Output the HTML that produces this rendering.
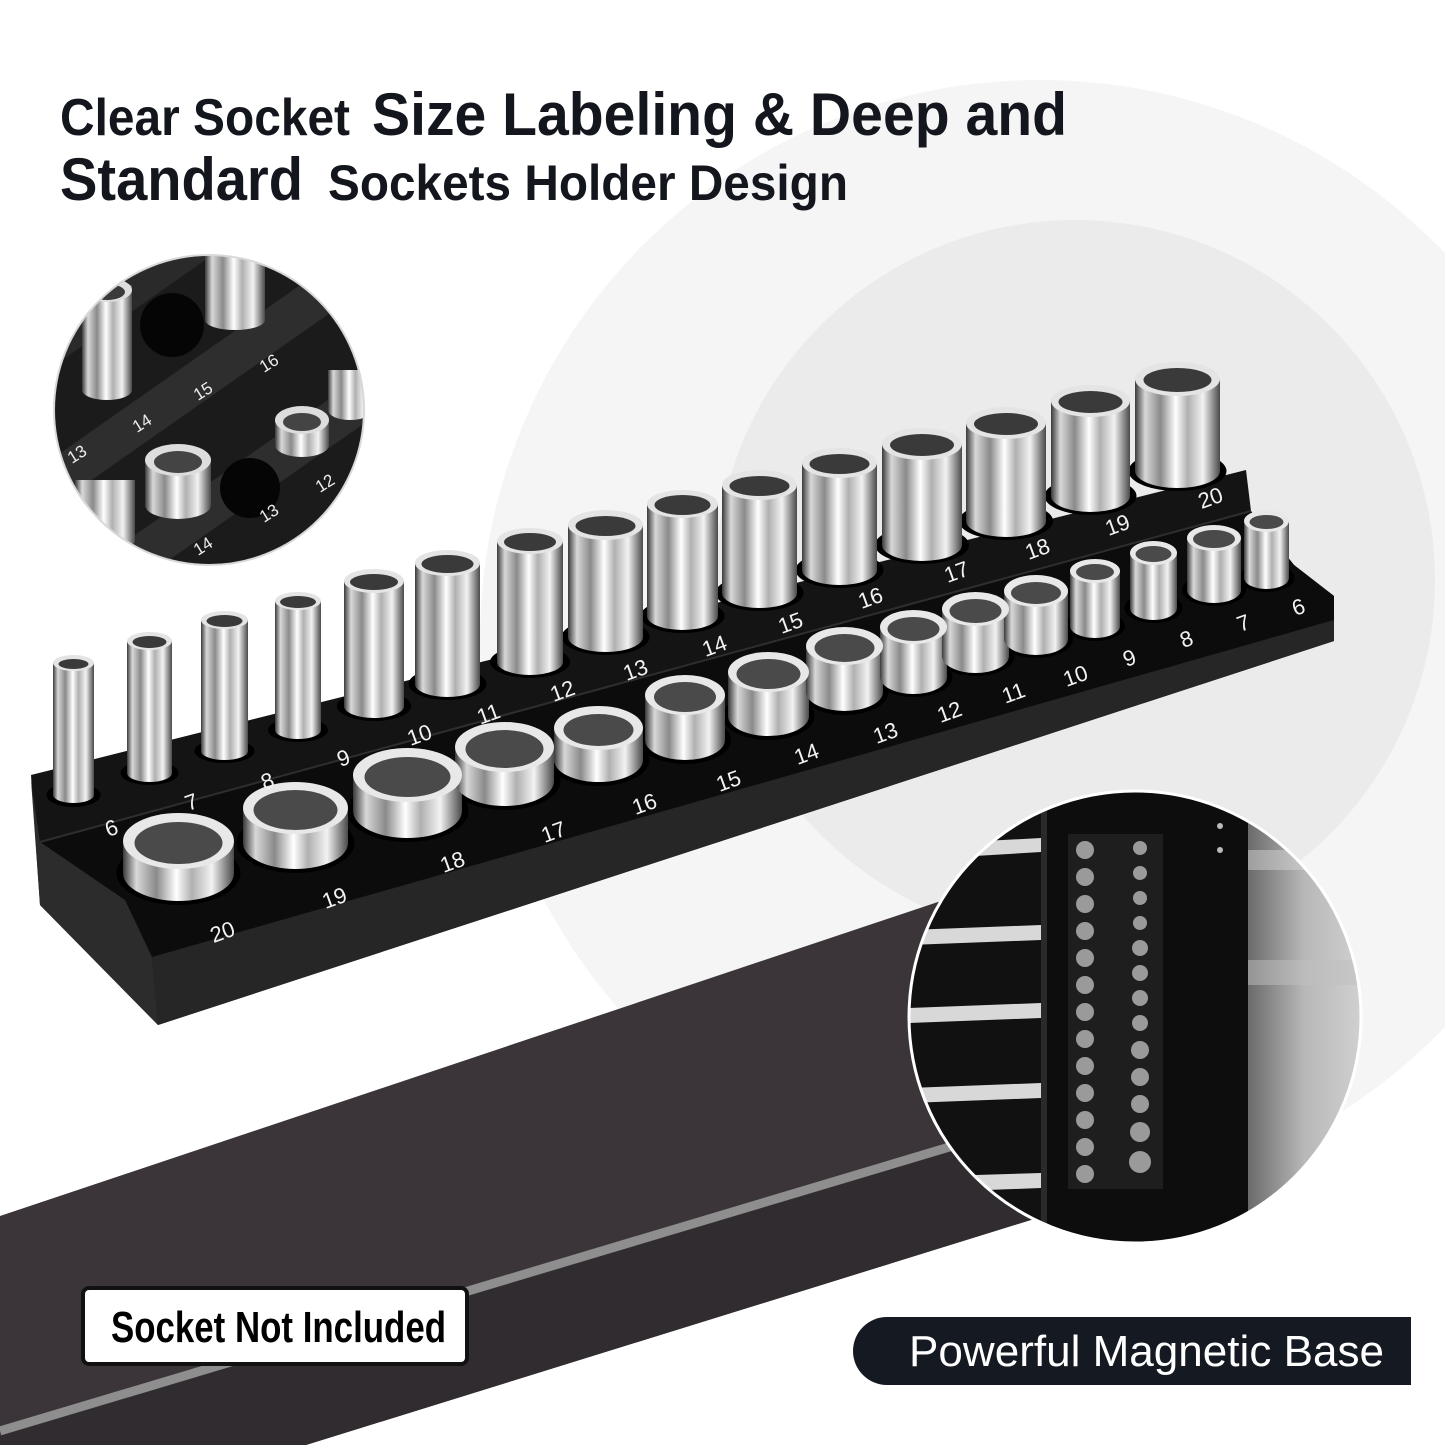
<!DOCTYPE html>
<html><head><meta charset="utf-8"><style>
html,body{margin:0;padding:0;background:#fff;width:1445px;height:1445px;overflow:hidden;}
svg{display:block;}
</style></head><body>
<svg width="1445" height="1445" viewBox="0 0 1445 1445" xmlns="http://www.w3.org/2000/svg">
<defs>
<linearGradient id="ch" x1="0" y1="0" x2="1" y2="0">
<stop offset="0" stop-color="#3a3a3a"/><stop offset="0.12" stop-color="#d8d8d8"/><stop offset="0.3" stop-color="#8a8a8a"/><stop offset="0.48" stop-color="#ffffff"/><stop offset="0.62" stop-color="#b0b0b0"/><stop offset="0.8" stop-color="#f2f2f2"/><stop offset="1" stop-color="#4a4a4a"/>
</linearGradient>
<linearGradient id="wall" x1="0" y1="0" x2="1" y2="0">
<stop offset="0" stop-color="#6a6a6a"/><stop offset="0.5" stop-color="#b8b8b8"/><stop offset="1" stop-color="#d0d0d0"/>
</linearGradient>
<clipPath id="c1"><circle cx="209" cy="410" r="155"/></clipPath>
<clipPath id="c2"><circle cx="1135" cy="1017" r="226"/></clipPath>
</defs>

<circle cx="1040" cy="640" r="560" fill="#f5f5f5"/>
<circle cx="1075" cy="580" r="360" fill="#ebebeb"/>

<g fill="#14161d" font-family="Liberation Sans, sans-serif" font-weight="bold">
<text x="60" y="135" font-size="52" textLength="290" lengthAdjust="spacingAndGlyphs">Clear Socket</text>
<text x="372" y="135" font-size="60" textLength="695" lengthAdjust="spacingAndGlyphs">Size Labeling &amp; Deep and</text>
<text x="60" y="200" font-size="60" textLength="243" lengthAdjust="spacingAndGlyphs">Standard</text>
<text x="328" y="200" font-size="50" textLength="520" lengthAdjust="spacingAndGlyphs">Sockets Holder Design</text>
</g>

<polygon points="0,1216 1150,831 1150,1183 306,1445 0,1445" fill="#3b3539"/>
<polygon points="0,1436 1150,1092 1150,1183 306,1445 0,1445" fill="#312c2f"/>
<line x1="0" y1="1431" x2="1150" y2="1087" stroke="#8e8e8e" stroke-width="9"/>

<polygon points="31,775 1246,470 1251,511 1294,565 1334,596 1334,641 158,1025 40,905" fill="#141414"/>
<polygon points="40,842 1251,511 1294,565 1334,596 1334,620 152,957 125,900" fill="#0c0c0c"/>
<polygon points="152,957 1334,620 1334,641 158,1025" fill="#262626"/>
<polygon points="31,780 40,905 158,1025 152,957 125,900 40,842" fill="#2c2c2c"/>
<line x1="40" y1="842" x2="1251" y2="511" stroke="#2e2e2e" stroke-width="2"/>

<g fill="#000">
<ellipse cx="73.5" cy="795" rx="27" ry="12"/><ellipse cx="149.5" cy="773" rx="29" ry="12"/><ellipse cx="224.5" cy="751" rx="30" ry="12"/><ellipse cx="298" cy="730" rx="30" ry="12"/><ellipse cx="374" cy="706" rx="37" ry="15"/><ellipse cx="447.5" cy="684" rx="39" ry="16"/><ellipse cx="530" cy="662" rx="40" ry="16"/><ellipse cx="605.5" cy="637" rx="44" ry="18"/><ellipse cx="682.5" cy="616" rx="42" ry="17"/><ellipse cx="759.5" cy="593" rx="44" ry="18"/><ellipse cx="839.5" cy="570" rx="44" ry="18"/><ellipse cx="922" cy="545" rx="47" ry="19"/><ellipse cx="1006" cy="521" rx="47" ry="19"/><ellipse cx="1090.5" cy="496" rx="46" ry="19"/><ellipse cx="1177.5" cy="471" rx="49" ry="20"/>
</g>

<g fill="url(#ch)">
<path d="M53,663 V795 A20.5,8 0 0 0 94,795 V663 Z"/>
<path d="M127,641 V773 A22.5,9 0 0 0 172,773 V641 Z"/>
<path d="M201,620 V751 A23.5,9 0 0 0 248,751 V620 Z"/>
<path d="M275,601 V730 A23,9 0 0 0 321,730 V601 Z"/>
<path d="M344,581 V706 A30,12 0 0 0 404,706 V581 Z"/>
<path d="M415,563 V684 A32.5,13 0 0 0 480,684 V563 Z"/>
<path d="M497,541 V662 A33,13 0 0 0 563,662 V541 Z"/>
<path d="M568,525 V637 A37.5,15 0 0 0 643,637 V525 Z"/>
<path d="M647,504 V616 A35.5,14 0 0 0 718,616 V504 Z"/>
<path d="M722,485 V593 A37.5,15 0 0 0 797,593 V485 Z"/>
<path d="M802,463 V570 A37.5,15 0 0 0 877,570 V463 Z"/>
<path d="M882,444 V545 A40,16 0 0 0 962,545 V444 Z"/>
<path d="M966,423 V521 A40,16 0 0 0 1046,521 V423 Z"/>
<path d="M1051,401 V496 A39.5,16 0 0 0 1130,496 V401 Z"/>
<path d="M1135,379 V471 A42.5,17 0 0 0 1220,471 V379 Z"/>
</g>
<g fill="#e4e4e4">
<ellipse cx="73.5" cy="663" rx="20.5" ry="8"/><ellipse cx="149.5" cy="641" rx="22.5" ry="9"/><ellipse cx="224.5" cy="620" rx="23.5" ry="9"/><ellipse cx="298" cy="601" rx="23" ry="9"/><ellipse cx="374" cy="581" rx="30" ry="12"/><ellipse cx="447.5" cy="563" rx="32.5" ry="13"/><ellipse cx="530" cy="541" rx="33" ry="13"/><ellipse cx="605.5" cy="525" rx="37.5" ry="15"/><ellipse cx="682.5" cy="504" rx="35.5" ry="14"/><ellipse cx="759.5" cy="485" rx="37.5" ry="15"/><ellipse cx="839.5" cy="463" rx="37.5" ry="15"/><ellipse cx="922" cy="444" rx="40" ry="16"/><ellipse cx="1006" cy="423" rx="40" ry="16"/><ellipse cx="1090.5" cy="401" rx="39.5" ry="16"/><ellipse cx="1177.5" cy="379" rx="42.5" ry="17"/>
</g>
<g fill="#3a3a3a">
<ellipse cx="73.5" cy="664" rx="15" ry="5"/><ellipse cx="149.5" cy="642" rx="17" ry="6"/><ellipse cx="224.5" cy="621" rx="18" ry="6"/><ellipse cx="298" cy="602" rx="18" ry="6"/><ellipse cx="374" cy="582" rx="24" ry="8"/><ellipse cx="447.5" cy="564" rx="26" ry="9"/><ellipse cx="530" cy="542" rx="26" ry="9"/><ellipse cx="605.5" cy="526" rx="30" ry="10"/><ellipse cx="682.5" cy="505" rx="28" ry="10"/><ellipse cx="759.5" cy="486" rx="30" ry="10"/><ellipse cx="839.5" cy="464" rx="30" ry="10"/><ellipse cx="922" cy="445" rx="32" ry="11"/><ellipse cx="1006" cy="424" rx="32" ry="11"/><ellipse cx="1090.5" cy="402" rx="32" ry="11"/><ellipse cx="1177.5" cy="380" rx="34" ry="12"/>
</g>

<g fill="#000">
<ellipse cx="178.5" cy="873" rx="62" ry="32"/><ellipse cx="295.5" cy="843" rx="59" ry="30"/><ellipse cx="407.5" cy="811" rx="61" ry="31"/><ellipse cx="504.5" cy="781" rx="56" ry="29"/><ellipse cx="598.5" cy="760" rx="51" ry="26"/><ellipse cx="685" cy="740" rx="46" ry="24"/><ellipse cx="768.5" cy="716" rx="46" ry="24"/><ellipse cx="844.5" cy="692" rx="44" ry="23"/><ellipse cx="913.5" cy="677" rx="39" ry="20"/><ellipse cx="975.5" cy="656" rx="39" ry="20"/><ellipse cx="1036" cy="639" rx="37" ry="19"/><ellipse cx="1095" cy="626" rx="30" ry="15"/><ellipse cx="1153.5" cy="608" rx="29" ry="15"/><ellipse cx="1214" cy="590" rx="32" ry="16"/><ellipse cx="1266.5" cy="578" rx="28" ry="14"/>
</g>
<g fill="url(#ch)">
<path d="M123,841 V873 A55.5,28 0 0 0 234,873 V841 Z"/>
<path d="M243,808 V843 A52.5,26 0 0 0 348,843 V808 Z"/>
<path d="M353,775 V811 A54.5,27 0 0 0 462,811 V775 Z"/>
<path d="M455,747 V781 A49.5,25 0 0 0 554,781 V747 Z"/>
<path d="M554,728 V760 A44.5,22 0 0 0 643,760 V728 Z"/>
<path d="M645,695 V740 A40,20 0 0 0 725,740 V695 Z"/>
<path d="M728,672 V716 A40.5,20 0 0 0 809,716 V672 Z"/>
<path d="M806,646 V692 A38.5,19 0 0 0 883,692 V646 Z"/>
<path d="M880,627 V677 A33.5,17 0 0 0 947,677 V627 Z"/>
<path d="M942,609 V656 A33.5,17 0 0 0 1009,656 V609 Z"/>
<path d="M1004,591 V639 A32,16 0 0 0 1068,639 V591 Z"/>
<path d="M1070,571 V626 A25,12 0 0 0 1120,626 V571 Z"/>
<path d="M1130,553 V608 A23.5,12 0 0 0 1177,608 V553 Z"/>
<path d="M1187,538 V590 A27,13 0 0 0 1241,590 V538 Z"/>
<path d="M1244,521 V578 A22.5,11 0 0 0 1289,578 V521 Z"/>
</g>
<g fill="#e8e8e8">
<ellipse cx="178.5" cy="841" rx="55.5" ry="28"/><ellipse cx="295.5" cy="808" rx="52.5" ry="26"/><ellipse cx="407.5" cy="775" rx="54.5" ry="27"/><ellipse cx="504.5" cy="747" rx="49.5" ry="25"/><ellipse cx="598.5" cy="728" rx="44.5" ry="22"/><ellipse cx="685" cy="695" rx="40" ry="20"/><ellipse cx="768.5" cy="672" rx="40.5" ry="20"/><ellipse cx="844.5" cy="646" rx="38.5" ry="19"/><ellipse cx="913.5" cy="627" rx="33.5" ry="17"/><ellipse cx="975.5" cy="609" rx="33.5" ry="17"/><ellipse cx="1036" cy="591" rx="32" ry="16"/><ellipse cx="1095" cy="571" rx="25" ry="12"/><ellipse cx="1153.5" cy="553" rx="23.5" ry="12"/><ellipse cx="1214" cy="538" rx="27" ry="13"/><ellipse cx="1266.5" cy="521" rx="22.5" ry="11"/>
</g>
<g fill="#4a4a4a">
<ellipse cx="178.5" cy="843" rx="44" ry="21"/><ellipse cx="295.5" cy="810" rx="42" ry="20"/><ellipse cx="407.5" cy="777" rx="43" ry="20"/><ellipse cx="504.5" cy="749" rx="39" ry="19"/><ellipse cx="598.5" cy="730" rx="35" ry="16"/><ellipse cx="685" cy="697" rx="31" ry="15"/><ellipse cx="768.5" cy="674" rx="32" ry="15"/><ellipse cx="844.5" cy="648" rx="30" ry="14"/><ellipse cx="913.5" cy="629" rx="26" ry="12"/><ellipse cx="975.5" cy="611" rx="26" ry="12"/><ellipse cx="1036" cy="593" rx="25" ry="11"/><ellipse cx="1095" cy="572" rx="19" ry="8"/><ellipse cx="1153.5" cy="554" rx="18" ry="8"/><ellipse cx="1214" cy="539" rx="21" ry="9"/><ellipse cx="1266.5" cy="522" rx="17" ry="7"/>
</g>

<g fill="#f2f2f2" font-family="Liberation Sans, sans-serif" font-size="22" text-anchor="middle">
<text transform="translate(114,835) rotate(-20)">6</text>
<text transform="translate(194,809) rotate(-20)">7</text>
<text transform="translate(270,788) rotate(-20)">8</text>
<text transform="translate(346,765) rotate(-20)">9</text>
<text transform="translate(422,742) rotate(-20)">10</text>
<text transform="translate(491,721) rotate(-20)">11</text>
<text transform="translate(565,698) rotate(-20)">12</text>
<text transform="translate(638,677) rotate(-20)">13</text>
<text transform="translate(717,653) rotate(-20)">14</text>
<text transform="translate(793,630) rotate(-20)">15</text>
<text transform="translate(873,605) rotate(-20)">16</text>
<text transform="translate(959,579) rotate(-20)">17</text>
<text transform="translate(1040,556) rotate(-20)">18</text>
<text transform="translate(1120,532) rotate(-20)">19</text>
<text transform="translate(1213,505) rotate(-20)">20</text>
<text transform="translate(225,939) rotate(-20)">20</text>
<text transform="translate(337,905) rotate(-20)">19</text>
<text transform="translate(455,869) rotate(-20)">18</text>
<text transform="translate(556,839) rotate(-20)">17</text>
<text transform="translate(647,811) rotate(-20)">16</text>
<text transform="translate(731,788) rotate(-20)">15</text>
<text transform="translate(809,761) rotate(-20)">14</text>
<text transform="translate(888,740) rotate(-20)">13</text>
<text transform="translate(952,719) rotate(-20)">12</text>
<text transform="translate(1016,700) rotate(-20)">11</text>
<text transform="translate(1078,683) rotate(-20)">10</text>
<text transform="translate(1132,665) rotate(-20)">9</text>
<text transform="translate(1189,646) rotate(-20)">8</text>
<text transform="translate(1246,630) rotate(-20)">7</text>
<text transform="translate(1301,614) rotate(-20)">6</text>
</g>

<g clip-path="url(#c1)">
<rect x="50" y="250" width="320" height="320" fill="#1b1b1b"/>
<g transform="rotate(-35 209 410)">
<rect x="20" y="360" width="400" height="40" fill="#2e2e2e"/>
<rect x="20" y="470" width="400" height="40" fill="#2e2e2e"/>
<rect x="20" y="250" width="400" height="35" fill="#2a2a2a"/>
</g>
<circle cx="172" cy="325" r="32" fill="#050505"/>
<circle cx="250" cy="488" r="30" fill="#050505"/>
<path d="M205,250 V320 A30,10 0 0 0 265,320 V250 Z" fill="url(#ch)"/>
<path d="M82,285 V390 A25,10 0 0 0 132,390 V285 Z" fill="url(#ch)"/>
<ellipse cx="107" cy="290" rx="25" ry="12" fill="#ddd"/><ellipse cx="107" cy="292" rx="18" ry="8" fill="#3a3a3a"/>
<path d="M145,460 V505 A33,14 0 0 0 211,505 V460 Z" fill="url(#ch)"/>
<ellipse cx="178" cy="460" rx="33" ry="16" fill="#ddd"/><ellipse cx="178" cy="462" rx="24" ry="11" fill="#444"/>
<path d="M275,420 V445 A27,12 0 0 0 329,445 V420 Z" fill="url(#ch)"/>
<ellipse cx="302" cy="420" rx="27" ry="14" fill="#ddd"/><ellipse cx="302" cy="422" rx="19" ry="9" fill="#444"/>
<path d="M328,370 V410 A22,10 0 0 0 372,410 V370 Z" fill="url(#ch)"/>
<path d="M75,480 V540 A30,12 0 0 0 135,540 V480 Z" fill="url(#ch)"/>
<g fill="#eee" font-family="Liberation Sans, sans-serif" font-size="17" text-anchor="middle">
<text transform="translate(272,368) rotate(-32)">16</text>
<text transform="translate(206,396) rotate(-32)">15</text>
<text transform="translate(145,428) rotate(-32)">14</text>
<text transform="translate(80,459) rotate(-32)">13</text>
<text transform="translate(328,488) rotate(-32)">12</text>
<text transform="translate(272,518) rotate(-32)">13</text>
<text transform="translate(206,551) rotate(-32)">14</text>
</g>
</g>
<circle cx="209" cy="410" r="155" fill="none" stroke="#d8d8d8" stroke-width="2"/>

<g clip-path="url(#c2)">
<rect x="909" y="791" width="452" height="452" fill="#1a1a1a"/>
<rect x="1248" y="791" width="113" height="452" fill="url(#wall)"/>
<rect x="1248" y="850" width="113" height="20" fill="#d4d4d4" opacity="0.5"/>
<rect x="1248" y="960" width="113" height="25" fill="#c0c0c0" opacity="0.5"/>
<rect x="909" y="791" width="132" height="452" fill="#111"/>
<g fill="#d8d8d8">
<polygon points="909,845 1041,838 1041,852 909,860"/>
<polygon points="909,930 1041,925 1041,940 909,945"/>
<polygon points="909,1008 1041,1003 1041,1018 909,1023"/>
<polygon points="909,1088 1041,1083 1041,1098 909,1103"/>
<polygon points="909,1177 1041,1173 1041,1188 909,1193"/>
</g>
<rect x="1041" y="791" width="207" height="452" fill="#0d0d0d"/>
<rect x="1041" y="791" width="6" height="452" fill="#2a2a2a"/>
<rect x="1068" y="834" width="95" height="355" fill="#1e1e1e"/>
<g fill="#9a9a9a">
<circle cx="1085" cy="850" r="9"/><circle cx="1085" cy="877" r="9"/><circle cx="1085" cy="904" r="9"/><circle cx="1085" cy="931" r="9"/><circle cx="1085" cy="958" r="9"/><circle cx="1085" cy="985" r="9"/><circle cx="1085" cy="1012" r="9"/><circle cx="1085" cy="1039" r="9"/><circle cx="1085" cy="1066" r="9"/><circle cx="1085" cy="1093" r="9"/><circle cx="1085" cy="1120" r="9"/><circle cx="1085" cy="1147" r="9"/><circle cx="1085" cy="1174" r="9"/>
<circle cx="1140" cy="848" r="7"/><circle cx="1140" cy="873" r="7"/><circle cx="1140" cy="898" r="7"/><circle cx="1140" cy="923" r="7"/><circle cx="1140" cy="948" r="8"/><circle cx="1140" cy="973" r="8"/><circle cx="1140" cy="998" r="8"/><circle cx="1140" cy="1023" r="8"/><circle cx="1140" cy="1050" r="9"/><circle cx="1140" cy="1077" r="9"/><circle cx="1140" cy="1104" r="9"/><circle cx="1140" cy="1132" r="10"/><circle cx="1140" cy="1162" r="11"/>
</g>
<circle cx="1220" cy="826" r="3" fill="#bbb"/><circle cx="1220" cy="850" r="3" fill="#bbb"/>
</g>
<circle cx="1135" cy="1017" r="226" fill="none" stroke="#ffffff" stroke-width="3"/>

<rect x="83" y="1288" width="384" height="76" rx="6" fill="#fff" stroke="#111" stroke-width="4"/>
<text x="111" y="1342" font-family="Liberation Sans, sans-serif" font-weight="bold" font-size="44" fill="#000" textLength="335" lengthAdjust="spacingAndGlyphs">Socket Not Included</text>

<path d="M887,1317 H1411 V1385 H887 A34,34 0 0 1 887,1317 Z" fill="#151922"/>
<text x="909" y="1366" font-family="Liberation Sans, sans-serif" font-size="44" fill="#fff" textLength="475" lengthAdjust="spacingAndGlyphs">Powerful Magnetic Base</text>
</svg>
</body></html>
